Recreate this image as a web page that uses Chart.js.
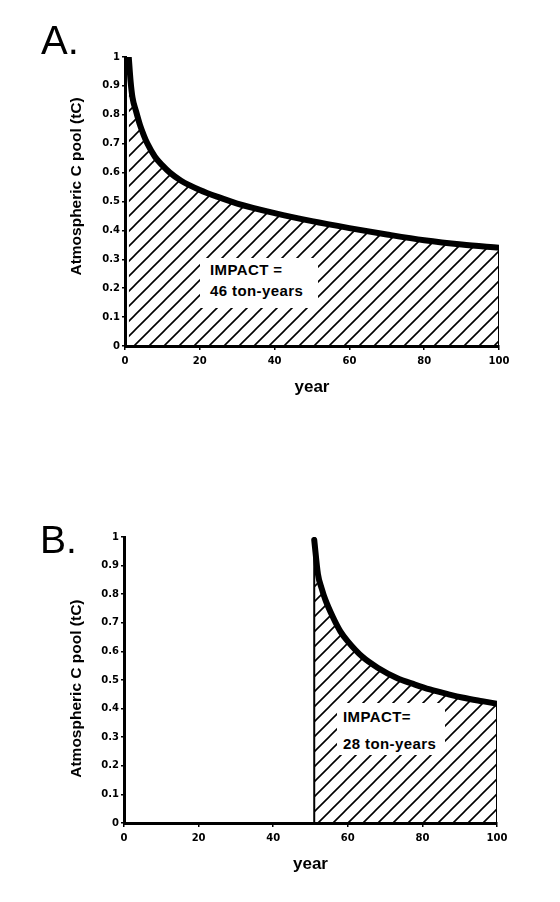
<!DOCTYPE html>
<html>
<head>
<meta charset="utf-8">
<script src="https://cdn.jsdelivr.net/npm/chart.js@4.4.1/dist/chart.umd.min.js"></script>
<style>
body { margin: 0; background: #fff; width: 560px; height: 902px; position: relative; overflow: hidden; font-family: 'Liberation Sans', Arial, sans-serif; color: #000; }
canvas { position: absolute; left: 0; }
#chartA { top: 0; }
#chartB { top: 451px; }
.panel { position: absolute; line-height: 1; }
.impact { position: absolute; background: #fff; font-weight: bold; font-size: 15px; box-sizing: border-box; white-space: nowrap; letter-spacing: 0.4px; }
</style>
</head>
<body>
<canvas id="chartA" width="560" height="451"></canvas>
<canvas id="chartB" width="560" height="451"></canvas>

<div class="panel" style="left:41px; top:20px; font-size:40px;">A.</div>
<div class="panel" style="left:40px; top:520px; font-size:39px;">B.</div>

<div class="impact" style="left:200px; top:258px; width:118px; height:50px; padding:1px 0 0 10px; line-height:21px;">IMPACT =<br>46 ton-years</div>
<div class="impact" style="left:337px; top:703px; width:108px; height:52px; padding:0 0 0 6px; line-height:27px;">IMPACT=<br>28 ton-years</div>

<script>
// Panel A: pulse emitted at year 1
var yearsA = [1, 1.5, 2, 3, 4, 5, 6, 8, 10, 12, 15, 20, 25, 30, 40, 50, 60, 70, 80, 90, 100];
var poolA = [1.0, 0.915, 0.86, 0.81, 0.765, 0.73, 0.70, 0.655, 0.625, 0.60, 0.572, 0.54, 0.515, 0.493, 0.46, 0.432, 0.408, 0.386, 0.366, 0.351, 0.34];

// Panel B: pulse emitted at year ~51
var yearsB = [51, 52, 53, 54, 56, 58, 60, 64, 68, 73, 78, 82, 87, 91, 96, 100];
var poolB = [0.99, 0.87, 0.82, 0.78, 0.72, 0.67, 0.635, 0.58, 0.543, 0.508, 0.484, 0.467, 0.45, 0.438, 0.426, 0.417];

// Axis ticks
var xTicks = [0, 20, 40, 60, 80, 100];
var xTickLabels = ['0', '20', '40', '60', '80', '100'];
var yTicks = [0, 0.1, 0.2, 0.3, 0.4, 0.5, 0.6, 0.7, 0.8, 0.9, 1];
var yTickLabels = ['0', '0.1', '0.2', '0.3', '0.4', '0.5', '0.6', '0.7', '0.8', '0.9', '1'];

var xTitle = 'year';
var yTitle = 'Atmospheric C pool (tC)';

// diagonal hatching used for the area under the curve
function makeHatch() {
    var size = 15;
    var c = document.createElement('canvas');
    c.width = size;
    c.height = size;
    var g = c.getContext('2d');
    g.strokeStyle = '#000';
    g.lineWidth = 1.6;
    g.beginPath();
    g.moveTo(-2, size + 2); g.lineTo(size + 2, -2);
    g.moveTo(-2, 2); g.lineTo(2, -2);
    g.moveTo(size - 2, size + 2); g.lineTo(size + 2, size - 2);
    g.stroke();
    return g.createPattern(c, 'repeat');
}

function toPoints(xs, ys) {
    return xs.map(function(x, i) { return {x: x, y: ys[i]}; });
}

function edge(x, top) {
    return {
        data: [{x: x, y: 0}, {x: x, y: top}],
        borderColor: '#000',
        borderWidth: 2,
        pointRadius: 0,
        fill: false
    };
}

// the title is centred on the axis; the spaces nudge it along the axis like the original
function makeChart(id, years, pool, edges, pad, yWidth, yTitleText) {
    var ctx = document.getElementById(id).getContext('2d');
    var datasets = [{
        data: toPoints(years, pool),
        borderColor: '#000',
        borderWidth: 6,
        borderCapStyle: 'round',
        backgroundColor: makeHatch(),
        fill: 'origin',
        pointRadius: 0,
        cubicInterpolationMode: 'monotone'
    }].concat(edges);

    return new Chart(ctx, {
        type: 'line',
        data: { datasets: datasets },
        options: {
            responsive: false,
            animation: false,
            events: [],
            layout: { padding: pad },
            plugins: { legend: { display: false }, tooltip: { enabled: false } },
            scales: {
                x: {
                    type: 'linear',
                    min: 0,
                    max: 100,
                    afterBuildTicks: function(scale) {
                        scale.ticks = xTicks.map(function(v) { return {value: v}; });
                    },
                    afterFit: function(scale) { scale.height = 60; },
                    ticks: {
                        color: '#000',
                        padding: 5,
                        maxRotation: 0,
                        font: { family: "'DejaVu Sans', sans-serif", size: 10, weight: 'bold' },
                        callback: function(v, i) { return xTickLabels[i]; }
                    },
                    grid: { drawOnChartArea: false, drawTicks: true, tickLength: 4, color: '#000', lineWidth: 1.5 },
                    border: { display: true, color: '#000', width: 3 },
                    title: {
                        display: true,
                        text: xTitle,
                        color: '#000',
                        padding: { top: 0, bottom: 8 },
                        font: { family: "'Liberation Sans', Arial, sans-serif", size: 17, weight: 'bold' }
                    }
                },
                y: {
                    type: 'linear',
                    min: 0,
                    max: 1,
                    afterBuildTicks: function(scale) {
                        scale.ticks = yTicks.map(function(v) { return {value: v}; });
                    },
                    afterFit: function(scale) { scale.width = yWidth; },
                    ticks: {
                        color: '#000',
                        padding: 2,
                        font: { family: "'DejaVu Sans', sans-serif", size: 10, weight: 'bold' },
                        callback: function(v, i) { return yTickLabels[i]; }
                    },
                    grid: { drawOnChartArea: false, drawTicks: true, tickLength: 3, color: '#000', lineWidth: 1.5 },
                    border: { display: true, color: '#000', width: 3 },
                    title: {
                        display: true,
                        text: yTitleText,
                        color: '#000',
                        padding: { top: 67, bottom: 0 },
                        font: { family: "'Liberation Sans', Arial, sans-serif", size: 15.5, weight: 'bold' }
                    }
                }
            }
        }
    });
}

document.addEventListener('DOMContentLoaded', function() {
    makeChart('chartA', yearsA, poolA,
        [edge(100, poolA[poolA.length - 1])],
        { top: 57, right: 61, bottom: 45, left: 0 }, 125,
        '       ' + yTitle);

    makeChart('chartB', yearsB, poolB,
        [edge(yearsB[0], poolB[0]), edge(100, poolB[poolB.length - 1])],
        { top: 86, right: 63, bottom: 19, left: 0 }, 124,
        yTitle + '    ');
});
</script>
</body>
</html>
